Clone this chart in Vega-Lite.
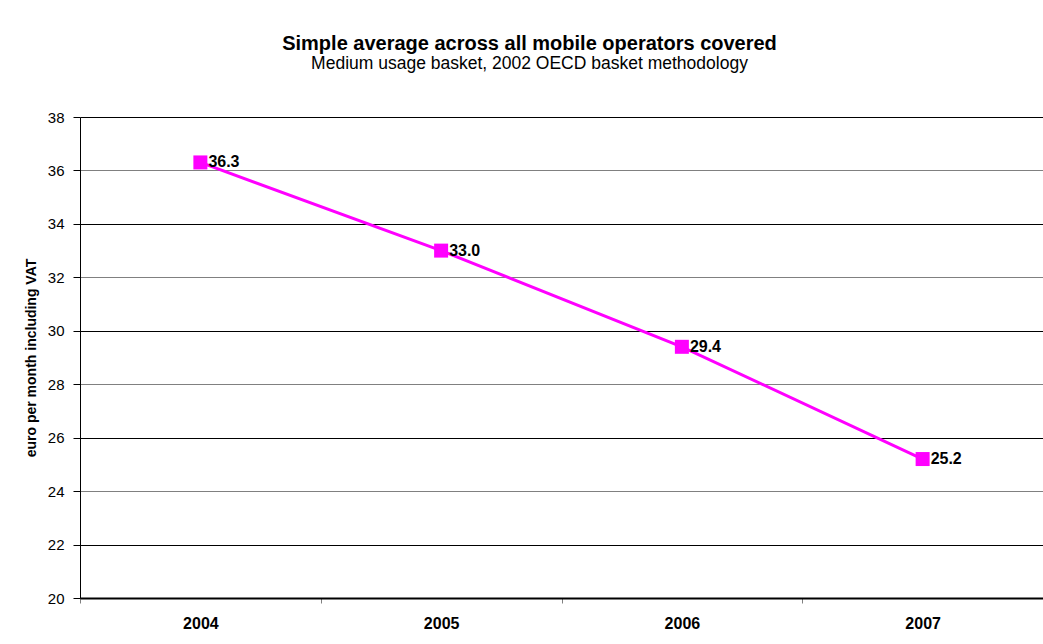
{
  "$schema": "https://vega.github.io/schema/vega-lite/v6.json",
  "autosize": {"type": "none"},
  "width": 963,
  "height": 481,
  "padding": {"left": 80, "top": 117, "right": 0, "bottom": 46},
  "background": "white",
  "config": {
    "font": "Liberation Sans",
    "view": {"stroke": null}
  },
  "title": {
    "text": "Simple average across all mobile operators covered",
    "subtitle": "Medium usage basket, 2002 OECD basket methodology",
    "anchor": "middle",
    "frame": "group",
    "dx": -32,
    "offset": 38,
    "font": "Liberation Sans",
    "fontSize": 20,
    "fontWeight": "bold",
    "color": "black",
    "subtitleFont": "Liberation Sans",
    "subtitleFontSize": 17.5,
    "subtitleColor": "black",
    "subtitlePadding": 1
  },
  "data": {
    "values": [
      {"year": "2004", "value": 36.3},
      {"year": "2005", "value": 33.0},
      {"year": "2006", "value": 29.4},
      {"year": "2007", "value": 25.2}
    ]
  },
  "encoding": {
    "x": {
      "field": "year",
      "type": "nominal",
      "scale": {"paddingInner": 0, "paddingOuter": 0},
      "axis": {
        "title": null,
        "labelAngle": 0,
        "labelFont": "Liberation Sans",
        "labelFontSize": 16,
        "labelFontWeight": "bold",
        "labelColor": "black",
        "labelPadding": 12,
        "tickBand": "extent",
        "tickColor": "#808080",
        "tickSize": 5,
        "domainColor": "black",
        "domainWidth": 2,
        "grid": false
      }
    },
    "y": {
      "field": "value",
      "type": "quantitative",
      "scale": {"domain": [20, 38], "nice": false, "zero": false},
      "axis": {
        "title": "euro per month including VAT",
        "titleFont": "Liberation Sans",
        "titleFontSize": 14,
        "titleFontWeight": "bold",
        "titleColor": "black",
        "titlePadding": 9,
        "values": [20, 22, 24, 26, 28, 30, 32, 34, 36, 38],
        "labelFont": "Liberation Sans",
        "labelFontSize": 15,
        "labelColor": "black",
        "labelPadding": 9,
        "tickColor": "black",
        "tickSize": 7,
        "domainColor": "black",
        "domainWidth": 1,
        "grid": true,
        "gridColor": {"condition": {"test": "datum.value % 4 == 0", "value": "#808080"}, "value": "#000000"},
        "gridOpacity": 1,
        "gridWidth": 1
      }
    }
  },
  "layer": [
    {
      "mark": {"type": "line", "color": "#FF00FF", "strokeWidth": 3}
    },
    {
      "mark": {"type": "point", "shape": "square", "filled": true, "color": "#FF00FF", "size": 196, "opacity": 1}
    },
    {
      "mark": {"type": "text", "align": "left", "baseline": "middle", "dx": 8, "font": "Liberation Sans", "fontSize": 16, "fontWeight": "bold", "color": "black"},
      "encoding": {
        "text": {"field": "value", "type": "quantitative", "format": ".1f"}
      }
    }
  ]
}
